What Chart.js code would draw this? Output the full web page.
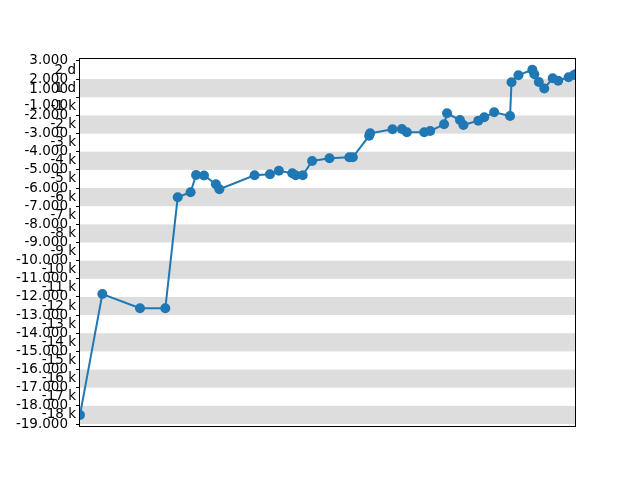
<!DOCTYPE html>
<html>
<head>
<meta charset="utf-8">
<script src="https://cdn.jsdelivr.net/npm/chart.js@4"></script>
<style>
  html, body { margin: 0; padding: 0; background: #fff; }
  canvas { display: block; }
</style>
</head>
<body>
<canvas id="myChart" width="640" height="480"></canvas>
<script>
// series
const xValues = [0, 4.5, 12.1, 17.2, 19.7, 22.3, 23.4, 25.0, 27.4, 28.1,
  35.2, 38.3, 40.1, 42.8, 43.5, 44.9, 46.8, 50.3, 54.3, 55.0,
  58.3, 58.5, 63.0, 64.9, 65.9, 69.4, 70.6, 73.4, 74.0, 76.6,
  77.3, 80.3, 81.5, 83.5, 86.7, 87.0, 88.4, 91.2, 91.6, 92.5,
  93.6, 95.3, 96.4, 98.5, 99.6, 100];
const yValues = [-16500, -9840, -10625, -10625, -4510, -4234, -3281, -3310, -3793, -4069,
  -3298, -3242, -3044, -3187, -3298, -3298, -2510, -2361, -2306, -2306,
  -1116, -983, -763, -747, -928, -928, -857, -488, 118, -251,
  -526, -289, -102, 174, -30, 1826, 2218, 2515, 2267, 1843,
  1485, 2047, 1909, 2107, 2229, 2284];

// tick positions and their texts
const tickValues = [3000, 2000, 1000, 0, -1000, -2000, -3000, -4000, -5000, -6000,
  -7000, -8000, -9000, -10000, -11000, -12000, -13000, -14000, -15000, -16000, -17000];
const majorLabels = ['3.000', '2.000', ['1.000', '-1.000'], '-2.000', '-3.000', '-4.000',
  '-5.000', '-6.000', '-7.000', '-8.000', '-9.000', '-10.000', '-11.000', '-12.000',
  '-13.000', '-14.000', '-15.000', '-16.000', '-17.000', '-18.000', '-19.000'];
const minorValues = [2500, 1500, 500, -500, -1500, -2500, -3500, -4500, -5500, -6500,
  -7500, -8500, -9500, -10500, -11500, -12500, -13500, -14500, -15500, -16500];
const minorLabels = ['2 d', '1 d', '-1 k', '-2 k', '-3 k', '-4 k', '-5 k', '-6 k', '-7 k',
  '-8 k', '-9 k', '-10 k', '-11 k', '-12 k', '-13 k', '-14 k', '-15 k', '-16 k',
  '-17 k', '-18 k'];

const points = xValues.map((x, i) => ({x: x, y: yValues[i]}));
const FONT = 'DejaVu Sans';

const decor = {
  id: 'decor',
  beforeDatasetsDraw(chart) {
    const {ctx, chartArea: a} = chart;
    const y = chart.scales.y;
    ctx.save();
    ctx.fillStyle = '#dddddd';
    for (let i = 1; i + 1 < tickValues.length; i += 2) {
      const y0 = y.getPixelForValue(tickValues[i]);
      const y1 = y.getPixelForValue(tickValues[i + 1]);
      ctx.fillRect(a.left, y0, a.right - a.left, y1 - y0);
    }
    ctx.restore();
  },
  afterDraw(chart) {
    const {ctx, chartArea: a} = chart;
    const y = chart.scales.y;
    ctx.save();
    ctx.strokeStyle = '#000';
    ctx.lineWidth = 1;
    ctx.strokeRect(Math.round(a.left) - 0.5, Math.round(a.top) + 0.5,
        Math.round(a.right - a.left), Math.round(a.bottom - a.top));
    ctx.fillStyle = '#000';
    ctx.font = '13.5px "' + FONT + '"';
    ctx.textAlign = 'right';
    ctx.textBaseline = 'middle';
    minorValues.forEach((v, i) => {
      ctx.fillText(minorLabels[i], a.left - 4, y.getPixelForValue(v));
    });
    ctx.restore();
  }
};

const config = {
  type: 'scatter',
  data: {
    datasets: [{
      data: points,
      showLine: true,
      borderColor: '#1f77b4',
      backgroundColor: '#1f77b4',
      borderWidth: 2,
      pointRadius: 5,
      pointBorderWidth: 0
    }]
  },
  options: {
    responsive: false,
    animation: false,
    devicePixelRatio: 1,
    layout: {padding: {left: 0, top: 58, right: 64, bottom: 54}},
    scales: {
      x: {type: 'linear', min: 0, max: 100, display: false},
      y: {
        type: 'linear',
        min: -17110,
        max: 3165,
        afterBuildTicks: (scale) => {
          scale.ticks = tickValues.map(v => ({value: v}));
        },
        afterFit: (scale) => { scale.width = 80; },
        border: {display: false},
        grid: {drawOnChartArea: false, color: '#000', tickLength: 4, tickWidth: 1},
        ticks: {
          padding: 8,
          color: '#000',
          font: {family: FONT, size: 13.5},
          autoSkip: false,
          callback: (v, i) => majorLabels[i]
        }
      }
    },
    plugins: {legend: {display: false}, tooltip: {enabled: false}}
  },
  plugins: [decor]
};
const myChart = new Chart(document.getElementById('myChart'), config);
</script>
</body>
</html>
